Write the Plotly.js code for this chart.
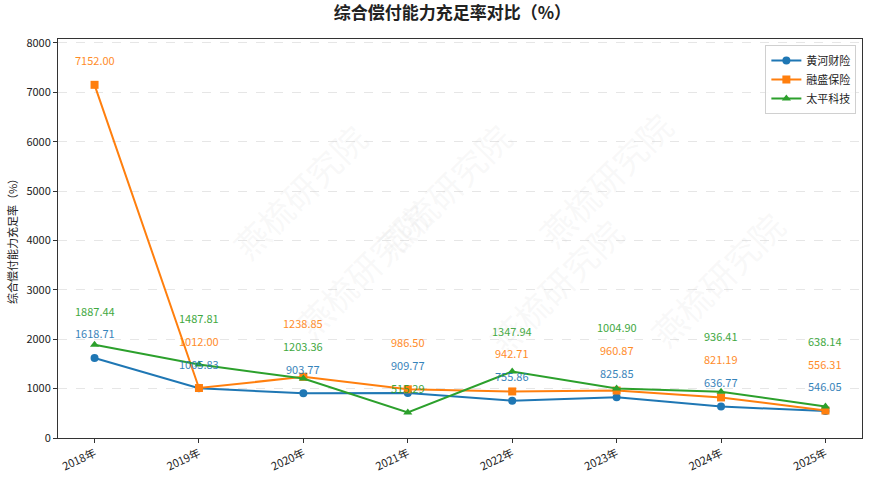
<!DOCTYPE html>
<html>
<head>
<meta charset="utf-8">
<script src="https://cdn.plot.ly/plotly-3.0.1.min.js"></script>
<style>
  html, body { margin: 0; padding: 0; background: #fff; }
  #chart { width: 870px; height: 478px; }
</style>
</head>
<body>
<div id="chart"></div>
<script>
const years = ['2018年', '2019年', '2020年', '2021年', '2022年', '2023年', '2024年', '2025年']
const huanghe = [1618.71, 1005.83, 903.77, 909.77, 755.86, 825.85, 636.77, 546.05]
const rongsheng = [7152.00, 1012.00, 1238.85, 986.50, 942.71, 960.87, 821.19, 556.31]
const taiping = [1887.44, 1487.81, 1203.36, 515.29, 1347.94, 1004.90, 936.41, 638.14]
const names = ['黄河财险', '融盛保险', '太平科技']
const colors = ['#1f77b4', '#ff7f0e', '#2ca02c']
const symbols = ['circle', 'square', 'triangle-up']

const FONT = '"Noto Sans CJK SC", "DejaVu Sans", sans-serif'
const series = [huanghe, rongsheng, taiping]

const traces = series.map((vals, i) => ({
  x: years,
  y: vals,
  name: names[i],
  type: 'scatter',
  mode: 'lines+markers',
  line: { color: colors[i], width: 2 },
  marker: { color: colors[i], symbol: symbols[i], size: 8 }
}))

// value labels: 500 above the point, pushed up so labels of one year don't collide
const LABEL_OFFSET = 500
const LABEL_GAP = 460
const annotations = []
years.forEach((year, j) => {
  let items = series.map((vals, i) => ({ i: i, v: vals[j], y: vals[j] + LABEL_OFFSET }))
  items.sort((a, b) => a.y - b.y)
  for (let k = 1; k < items.length; k++) {
    if (items[k].y < items[k - 1].y + LABEL_GAP) items[k].y = items[k - 1].y + LABEL_GAP
  }
  items.forEach(it => {
    annotations.push({
      x: year,
      y: it.y,
      text: it.v.toFixed(2),
      showarrow: false,
      font: { family: FONT, size: 11, color: colors[it.i] },
      opacity: 0.9
    })
  })
})

// faint watermark
const marks = [[0.2, 0.82], [0.48, 0.62], [0.78, 0.85], [0.28, 0.22], [0.62, 0.18], [0.92, 0.4]]
marks.forEach(m => {
  annotations.push({
    xref: 'paper', yref: 'paper', x: m[0], y: m[1],
    text: '燕梳研究院', showarrow: false, textangle: -45,
    font: { family: FONT, size: 34, color: 'rgba(200,200,200,0.13)' }
  })
})

const layout = {
  width: 870,
  height: 478,
  margin: { l: 58, r: 8, t: 39, b: 40 },
  paper_bgcolor: '#fff',
  plot_bgcolor: '#fff',
  font: { family: FONT, size: 11, color: '#222' },
  title: {
    text: '<b>综合偿付能力充足率对比（%）</b>',
    x: 0.52, xanchor: 'center', y: 0.985, yanchor: 'top',
    font: { family: FONT, size: 17, color: '#222' }
  },
  xaxis: {
    type: 'category',
    range: [-0.35, 7.35],
    tickangle: -25,
    ticks: 'outside', ticklen: 4, tickcolor: '#333',
    showgrid: false,
    showline: true, linecolor: '#333', linewidth: 1, mirror: true,
    zeroline: false,
    tickfont: { family: FONT, size: 11, color: '#222' }
  },
  yaxis: {
    range: [0, 8080],
    dtick: 1000,
    ticks: 'outside', ticklen: 4, tickcolor: '#333',
    showgrid: true, gridcolor: '#e6e6e6', griddash: 'dash', gridwidth: 1,
    showline: true, linecolor: '#333', linewidth: 1, mirror: true,
    zeroline: false,
    tickfont: { family: FONT, size: 11, color: '#222' },
    title: { text: '综合偿付能力充足率（%）', font: { family: FONT, size: 11, color: '#222' }, standoff: 6 }
  },
  legend: {
    x: 0.993, xanchor: 'right', y: 0.985, yanchor: 'top',
    bgcolor: 'rgba(255,255,255,0.85)',
    bordercolor: '#d0d0d0', borderwidth: 1,
    font: { family: FONT, size: 11, color: '#222' },
    tracegroupgap: 0
  },
  annotations: annotations,
  showlegend: true
}

Plotly.newPlot('chart', traces, layout, { displayModeBar: false, staticPlot: true })
</script>
</body>
</html>
